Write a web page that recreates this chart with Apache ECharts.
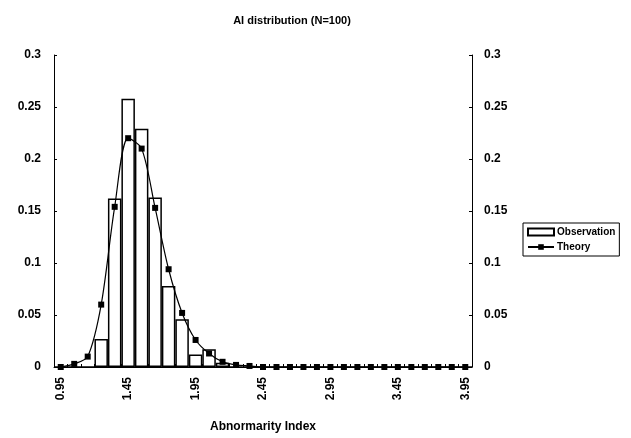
<!DOCTYPE html>
<html>
<head>
<meta charset="utf-8">
<script src="https://cdn.jsdelivr.net/npm/echarts@6/dist/echarts.min.js"></script>
<style>
  html, body { margin: 0; padding: 0; background: #fff; }
  #chart { width: 631px; height: 438px; }
</style>
</head>
<body>
<div id="chart"></div>
<script>
// AI values, step 0.1
var categories = ['0.95', '1.05', '1.15', '1.25', '1.35', '1.45', '1.55', '1.65', '1.75', '1.85',
  '1.95', '2.05', '2.15', '2.25', '2.35', '2.45', '2.55', '2.65', '2.75', '2.85',
  '2.95', '3.05', '3.15', '3.25', '3.35', '3.45', '3.55', '3.65', '3.75', '3.85', '3.95'];
// observed frequency
var observation = [0, 0, 0, 0.027, 0.162, 0.258, 0.229, 0.163, 0.078, 0.046,
  0.012, 0.017, 0.004, 0, 0, 0, 0, 0, 0, 0,
  0, 0, 0, 0, 0, 0, 0, 0, 0, 0, 0];
// theoretical distribution
var theory = [0, 0.003, 0.010, 0.060, 0.154, 0.220, 0.210, 0.153, 0.094, 0.052,
  0.026, 0.013, 0.005, 0.002, 0.001, 0, 0, 0, 0, 0,
  0, 0, 0, 0, 0, 0, 0, 0, 0, 0, 0];
var yMin = 0, yMax = 0.3, yStep = 0.05;

var myChart = echarts.init(document.getElementById('chart'));
var fontFam = '"Liberation Sans", Arial, sans-serif';
var valueAxis = function (pos, gap) {
  return {
    type: 'value',
    position: pos,
    min: yMin,
    max: yMax,
    interval: yStep,
    axisLine: { show: true, lineStyle: { color: '#000', width: 1 } },
    axisTick: { show: true, inside: true, length: 3, lineStyle: { color: '#000' } },
    axisLabel: { color: '#000', fontSize: 12, fontWeight: 'bold', fontFamily: fontFam, margin: gap },
    splitLine: { show: false }
  };
};

var option = {
  animation: false,
  backgroundColor: '#fff',
  title: {
    text: 'AI distribution (N=100)',
    left: 287,
    textAlign: 'center',
    top: 10,
    textStyle: { fontSize: 11, fontWeight: 'bold', color: '#000', fontFamily: fontFam }
  },
  legend: {
    orient: 'vertical',
    left: 523,
    top: 223,
    padding: [4, 4, 4, 4],
    itemGap: 5,
    itemWidth: 26,
    itemHeight: 7,
    borderColor: '#000',
    borderWidth: 1,
    textStyle: { fontSize: 10, fontWeight: 'bold', color: '#000', fontFamily: fontFam, padding: [0, 0, 0, -2] },
    data: [{ name: 'Observation', icon: 'rect' }, { name: 'Theory' }]
  },
  grid: { left: 54, right: 159, top: 55, bottom: 69 },
  xAxis: {
    type: 'category',
    data: categories,
    boundaryGap: true,
    name: 'Abnormarity Index',
    nameLocation: 'middle',
    nameGap: 54,
    nameTextStyle: { fontSize: 12, fontWeight: 'bold', color: '#000', fontFamily: fontFam },
    axisLine: { lineStyle: { color: '#000', width: 1 } },
    axisTick: { show: true, inside: true, length: 3, interval: 0, lineStyle: { color: '#000' } },
    axisLabel: { interval: 4, rotate: 90, color: '#000', fontSize: 12, fontWeight: 'bold', fontFamily: fontFam, margin: 10 }
  },
  yAxis: [valueAxis('left', 13), valueAxis('right', 12)],
  series: [
    {
      name: 'Observation',
      type: 'bar',
      yAxisIndex: 0,
      data: observation,
      barCategoryGap: '0%',
      itemStyle: { color: '#fff', borderColor: '#000', borderWidth: 1.5 }
    },
    {
      name: 'Theory',
      type: 'line',
      yAxisIndex: 0,
      data: theory,
      smooth: 0.3,
      symbol: 'rect',
      symbolSize: 6,
      lineStyle: { color: '#000', width: 1.2 },
      itemStyle: { color: '#000' }
    }
  ]
};
myChart.setOption(option, true);
</script>
</body>
</html>
